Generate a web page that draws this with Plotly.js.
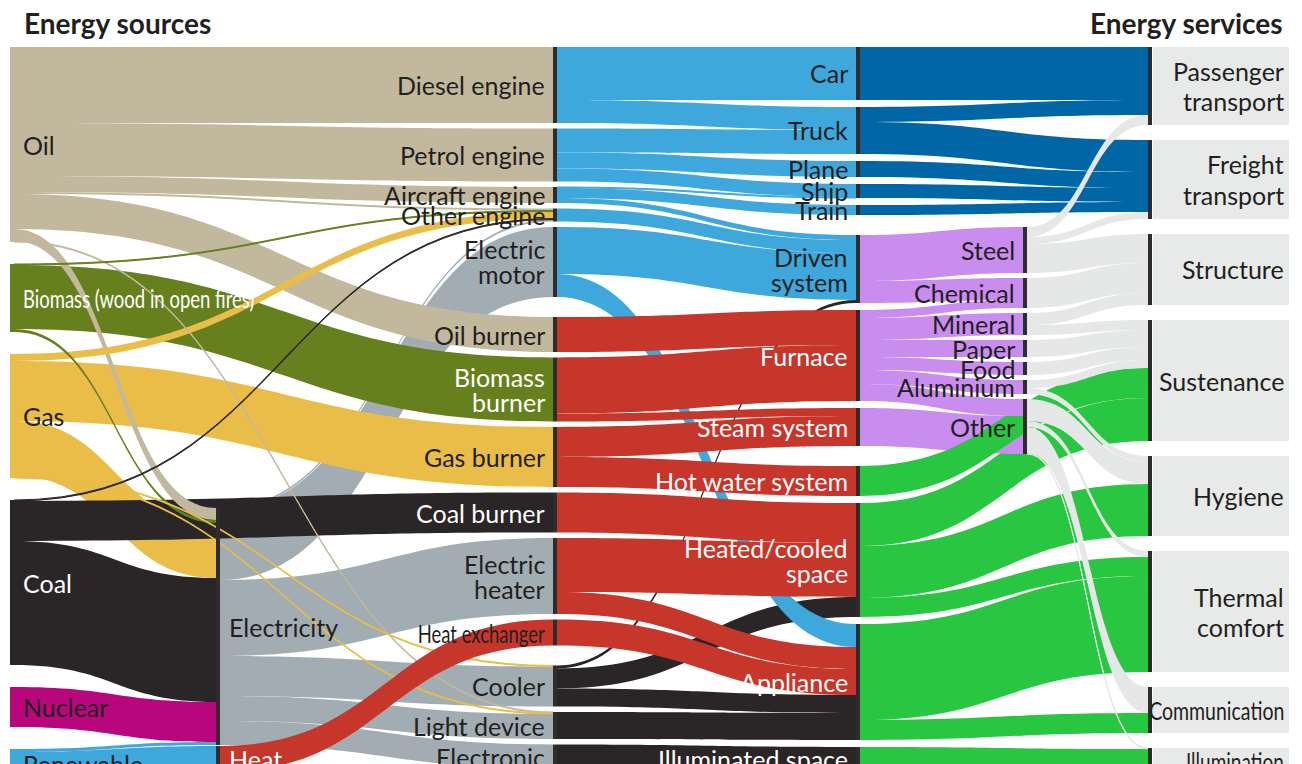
<!DOCTYPE html>
<html>
<head>
<meta charset="utf-8">
<script src="https://cdn.plot.ly/plotly-3.0.1.min.js"></script>
<style>
html, body { margin:0; padding:0; background:#ffffff; overflow:hidden; }
#chart { width:1302px; height:764px; }
</style>
</head>
<body>
<div id="chart"></div>
<script>
// ===================== DATA =====================
const sourceKeys   = ['Oil', 'Biomass', 'Gas', 'Coal', 'Nuclear', 'Renewable'];
const sourceLabels = ['Oil', 'Biomass (wood in open fires)', 'Gas', 'Coal', 'Nuclear', 'Renewable'];
const carrierKeys  = ['Electricity', 'Heat'];
const deviceKeys   = ['Diesel engine', 'Petrol engine', 'Aircraft engine', 'Other engine', 'Electric motor',
                      'Oil burner', 'Biomass burner', 'Gas burner', 'Coal burner', 'Electric heater', 'Heat exchanger',
                      'Cooler', 'Light device', 'Electronic'];
const deviceTypes  = ['motion', 'motion', 'motion', 'motion', 'motion',
                      'heat', 'heat', 'heat', 'heat', 'heat', 'heat',
                      'other', 'other', 'other'];
const passiveKeys  = ['Car', 'Truck', 'Plane', 'Ship', 'Train', 'Driven system', 'Furnace', 'Steam system',
                      'Hot water system', 'Heated/cooled space', 'Appliance', 'Illuminated space'];
const passiveTypes = ['transport', 'transport', 'transport', 'transport', 'transport', 'industry', 'industry', 'industry',
                      'building', 'building', 'building', 'building'];
const materialKeys = ['Steel', 'Chemical', 'Mineral', 'Paper', 'Food', 'Aluminium', 'Other'];
const serviceKeys  = ['Passenger transport', 'Freight transport', 'Structure', 'Sustenance', 'Hygiene',
                      'Thermal comfort', 'Communication', 'Illumination'];
const headerLeft  = 'Energy sources';
const headerRight = 'Energy services';

// energy source -> carrier / conversion device
const sourceFlows = [
  ['Oil', 'Diesel engine', 76], ['Oil', 'Petrol engine', 53], ['Oil', 'Aircraft engine', 16],
  ['Oil', 'Other engine', 2], ['Oil', 'Oil burner', 35], ['Oil', 'Electricity', 12], ['Oil', 'Light device', 1],
  ['Biomass', 'Other engine', 1], ['Biomass', 'Biomass burner', 64], ['Biomass', 'Electricity', 3],
  ['Gas', 'Other engine', 7], ['Gas', 'Gas burner', 60], ['Gas', 'Electricity', 55],
  ['Gas', 'Cooler', 1], ['Gas', 'Light device', 1],
  ['Coal', 'Other engine', 1], ['Coal', 'Coal burner', 40], ['Coal', 'Electricity', 124],
  ['Nuclear', 'Electricity', 40],
  ['Renewable', 'Electricity', 3], ['Renewable', 'Heat', 26]
];
// carrier -> conversion device
const carrierFlows = [
  ['Electricity', 'Other engine', 2], ['Electricity', 'Electric motor', 70], ['Electricity', 'Electric heater', 76],
  ['Electricity', 'Cooler', 40], ['Electricity', 'Light device', 25], ['Electricity', 'Electronic', 24],
  ['Heat', 'Heat exchanger', 26]
];
// conversion device -> passive system
const deviceFlows = [
  ['Diesel engine', 'Car', 53], ['Diesel engine', 'Truck', 23],
  ['Petrol engine', 'Truck', 24], ['Petrol engine', 'Plane', 16], ['Petrol engine', 'Ship', 13],
  ['Aircraft engine', 'Ship', 1], ['Aircraft engine', 'Train', 10], ['Aircraft engine', 'Driven system', 5],
  ['Other engine', 'Driven system', 13],
  ['Electric motor', 'Driven system', 47], ['Electric motor', 'Appliance', 23],
  ['Oil burner', 'Furnace', 35],
  ['Biomass burner', 'Furnace', 56], ['Biomass burner', 'Steam system', 8],
  ['Gas burner', 'Steam system', 30], ['Gas burner', 'Hot water system', 30],
  ['Coal burner', 'Heated/cooled space', 40],
  ['Electric heater', 'Heated/cooled space', 54], ['Electric heater', 'Appliance', 22],
  ['Heat exchanger', 'Appliance', 26],
  ['Cooler', 'Driven system', 3], ['Cooler', 'Heated/cooled space', 20], ['Cooler', 'Appliance', 18],
  ['Light device', 'Appliance', 27],
  ['Electronic', 'Illuminated space', 24]
];
// passive system -> material / final service
const passiveFlows = [
  ['Car', 'Passenger transport', 53],
  ['Truck', 'Passenger transport', 15], ['Truck', 'Freight transport', 32],
  ['Plane', 'Freight transport', 16], ['Ship', 'Freight transport', 14], ['Train', 'Freight transport', 10],
  ['Driven system', 'Steel', 46], ['Driven system', 'Chemical', 22],
  ['Furnace', 'Chemical', 8], ['Furnace', 'Mineral', 22], ['Furnace', 'Paper', 17], ['Furnace', 'Food', 13],
  ['Furnace', 'Aluminium', 14], ['Furnace', 'Other', 17],
  ['Steam system', 'Other', 38],
  ['Hot water system', 'Sustenance', 30],
  ['Heated/cooled space', 'Sustenance', 43], ['Heated/cooled space', 'Hygiene', 52],
  ['Heated/cooled space', 'Thermal comfort', 19],
  ['Appliance', 'Thermal comfort', 96], ['Appliance', 'Communication', 20],
  ['Illuminated space', 'Illumination', 24]
];
// material -> final service
const materialFlows = [
  ['Steel', 'Passenger transport', 10], ['Steel', 'Freight transport', 7], ['Steel', 'Structure', 29],
  ['Chemical', 'Structure', 30],
  ['Mineral', 'Structure', 12], ['Mineral', 'Sustenance', 10],
  ['Paper', 'Sustenance', 17],
  ['Food', 'Sustenance', 13],
  ['Aluminium', 'Sustenance', 8], ['Aluminium', 'Hygiene', 6],
  ['Other', 'Hygiene', 22], ['Other', 'Thermal comfort', 6], ['Other', 'Communication', 26],
  ['Other', 'Illumination', 1]
];

// ===================== STYLE / LAYOUT =====================
const W = 1302, H = 764, TOP = 47, THICK = 4;
const COL_X = {source: 12, carrier: 218, device: 555, passive: 858, material: 1025, service: 1150};
const LABEL_X = {source: 22, carrier: 228, device: 546, passive: 849, material: 1016, service: 1285};
const BOX_X0 = 1153, BOX_X1 = 1289;
const SOURCE_COLORS = {Oil: '#c2b89d', Biomass: '#66801d', Gas: '#e9bd48', Coal: '#2a2627', Nuclear: '#b8077c', Renewable: '#3ea8dc'};
const CARRIER_COLORS = {Electricity: '#a1adb2', Heat: '#c6362a'};
const DEVICE_TYPE_COLORS = {motion: '#3ea8dc', heat: '#c6362a', other: '#2a2627'};
const DEVICE_TYPE_ORDER = {other: 0, motion: 1, heat: 2};
const PASSIVE_TYPE_COLORS = {transport: '#0066a6', industry: '#c98cef', building: '#29c741'};
const MATERIAL_COLOR = '#e6e7e7';
const BOX_COLOR = '#e8e9e9';
const LINE_COLOR = '#2f2c2d';
const TEXT_DARK = '#231f20';
const FONT = 'Lato, "Open Sans", "Noto Sans", sans-serif';
const LABEL_SIZE = 25;
const WHITE_LABELS = new Set(['Biomass', 'Coal', 'Heat', 'Biomass burner', 'Coal burner', 'Furnace',
  'Steam system', 'Hot water system', 'Heated/cooled space', 'Appliance', 'Illuminated space']);
const CONDENSED = {'Biomass': 0.74, 'Heat exchanger': 0.74, 'Communication': 0.78, 'Illumination': 0.76};
const LINE_BREAKS = {
  'Electric motor': ['Electric', 'motor'], 'Biomass burner': ['Biomass', 'burner'],
  'Electric heater': ['Electric', 'heater'], 'Driven system': ['Driven', 'system'],
  'Heated/cooled space': ['Heated/cooled', 'space'], 'Passenger transport': ['Passenger', 'transport'],
  'Freight transport': ['Freight', 'transport'], 'Thermal comfort': ['Thermal', 'comfort']
};

// ===================== BUILD =====================
const allFlows = [].concat(sourceFlows, carrierFlows, deviceFlows, passiveFlows, materialFlows);
const inSum = {}, outSum = {};
allFlows.forEach(([s, t, v]) => { outSum[s] = (outSum[s] || 0) + v; inSum[t] = (inSum[t] || 0) + v; });
const nodeValue = k => Math.max(inSum[k] || 0, outSum[k] || 0);

const columns = [
  {name: 'source', keys: sourceKeys}, {name: 'carrier', keys: carrierKeys}, {name: 'device', keys: deviceKeys},
  {name: 'passive', keys: passiveKeys}, {name: 'material', keys: materialKeys}, {name: 'service', keys: serviceKeys}
];
const allKeys = [].concat(...columns.map(c => c.keys));
const idx = {}; allKeys.forEach((k, i) => { idx[k] = i; });
const colOf = {}; columns.forEach(c => c.keys.forEach(k => { colOf[k] = c.name; }));

// replicate d3-sankey column assignment (justify) to pick the padding giving 1 unit = 1 px
function padForUnitScale() {
  const out = {}; allKeys.forEach(k => { out[k] = []; });
  allFlows.forEach(([s, t]) => out[s].push(t));
  const depth = {}; let cur = allKeys.slice(), x = 0;
  while (cur.length) {
    const next = [];
    cur.forEach(k => { depth[k] = x; out[k].forEach(t => { if (!next.includes(t)) next.push(t); }); });
    cur = next; x++;
  }
  const groups = {};
  allKeys.forEach(k => { const c = out[k].length ? depth[k] : x - 1; (groups[c] = groups[c] || []).push(k); });
  let pad = Infinity;
  Object.values(groups).forEach(g => {
    if (g.length > 1) {
      const s = g.reduce((a, k) => a + nodeValue(k), 0);
      pad = Math.min(pad, (H - s) / (g.length - 1));
    }
  });
  return pad;
}
const PAD = padForUnitScale();

function layoutPositions(ky) {
  const pos = {};
  function stack(keys, types, gapIn, gapOut, start) {
    let y = start;
    keys.forEach((k, i) => {
      if (i > 0) y += (types && types[i] !== types[i - 1]) ? gapOut : gapIn;
      const h = nodeValue(k) * ky;
      pos[k] = {y0: y, y1: y + h};
      y += h;
    });
    return y;
  }
  const srcBottom = stack(sourceKeys, null, 22, 22, TOP);
  let yb = srcBottom - 6;
  for (let i = carrierKeys.length - 1; i >= 0; i--) {
    const h = nodeValue(carrierKeys[i]) * ky;
    pos[carrierKeys[i]] = {y0: yb - h, y1: yb};
    yb -= h + 1;
  }
  stack(deviceKeys, deviceTypes, 5.5, 20, TOP);
  stack(passiveKeys, passiveTypes, 7, 20, TOP);
  const ind = passiveKeys.filter((k, i) => passiveTypes[i] === 'industry');
  const top = Math.min(...ind.map(k => pos[k].y0)), bot = Math.max(...ind.map(k => pos[k].y1));
  const matH = materialKeys.reduce((a, k) => a + nodeValue(k) * ky, 0) + (materialKeys.length - 1) * 5;
  stack(materialKeys, null, 5, 5, (top + bot) / 2 - matH / 2);
  stack(serviceKeys, null, 15, 15, TOP);
  return pos;
}

// drawing priority: electricity flows at the back, heat/red device flows above black & blue ones
function drawRank(stage, f) {
  if (stage === 1) return f[0] === 'Electricity' ? 0 : 2;
  if (stage === 0) return 1;
  if (stage === 2) return 3 + DEVICE_TYPE_ORDER[deviceTypes[deviceKeys.indexOf(f[0])]];
  return 3 + stage * 2;
}
function linkColor(stage, f) {
  if (stage === 0) return SOURCE_COLORS[f[0]];
  if (stage === 1) return CARRIER_COLORS[f[0]];
  if (stage === 2) return DEVICE_TYPE_COLORS[deviceTypes[deviceKeys.indexOf(f[0])]];
  if (stage === 3) return PASSIVE_TYPE_COLORS[passiveTypes[passiveKeys.indexOf(f[0])]];
  return MATERIAL_COLOR;
}

let annMeta = [];
function build(ky) {
  const pos = layoutPositions(ky);
  const stages = [sourceFlows, carrierFlows, deviceFlows, passiveFlows, materialFlows];
  const items = [];
  stages.forEach((flows, st) => flows.forEach(f => items.push({f, st, rank: drawRank(st, f)})));
  items.sort((a, b) => (a.rank - b.rank) || (b.f[2] - a.f[2]));
  const link = {source: [], target: [], value: [], color: [], hoverinfo: 'none'};
  items.forEach(({f, st}) => {
    link.source.push(idx[f[0]]); link.target.push(idx[f[1]]);
    link.value.push(f[2]); link.color.push(linkColor(st, f));
  });

  const nodeColors = allKeys.map(k => colOf[k] === 'source' ? SOURCE_COLORS[k] : LINE_COLOR);
  const main = {
    type: 'sankey', arrangement: 'fixed', orientation: 'h',
    domain: {x: [0, 1], y: [0, 1]}, hoverinfo: 'none',
    node: {
      label: allKeys.map(() => ''), customdata: allKeys,
      pad: PAD, thickness: THICK, line: {width: 0}, color: nodeColors,
      x: allKeys.map(k => COL_X[colOf[k]] / W),
      y: allKeys.map(k => ((pos[k].y0 + pos[k].y1) / 2) / H),
      hoverinfo: 'none'
    },
    link: link
  };

  // light-grey boxes behind the final-service labels
  const svcTotal = serviceKeys.reduce((a, k) => a + nodeValue(k), 0);
  const boxNodes = serviceKeys.concat(serviceKeys.map(k => k + ' box'));
  const boxCenter = (BOX_X0 + BOX_X1) / 2;
  const boxes = {
    type: 'sankey', arrangement: 'fixed', orientation: 'h',
    domain: {x: [0, 1], y: [0, 1]}, hoverinfo: 'none',
    node: {
      label: boxNodes.map(() => ''), pad: (H - ky * svcTotal) / (serviceKeys.length - 1),
      thickness: BOX_X1 - BOX_X0, line: {width: 0},
      color: serviceKeys.map(() => 'rgba(0,0,0,0)').concat(serviceKeys.map(() => BOX_COLOR)),
      x: boxNodes.map(() => boxCenter / W),
      y: serviceKeys.concat(serviceKeys).map(k => ((pos[k].y0 + pos[k].y1) / 2) / H),
      hoverinfo: 'none'
    },
    link: {
      source: serviceKeys.map((k, i) => i), target: serviceKeys.map((k, i) => i + serviceKeys.length),
      value: serviceKeys.map(k => nodeValue(k)), color: serviceKeys.map(() => 'rgba(0,0,0,0)'), hoverinfo: 'none'
    }
  };

  const ann = []; annMeta = [];
  allKeys.forEach(k => {
    const col = colOf[k];
    const text = col === 'source' ? sourceLabels[sourceKeys.indexOf(k)] : k;
    const lines = LINE_BREAKS[k] || [text];
    const gap = col === 'service' ? 30 : 25;
    const cy = (pos[k].y0 + pos[k].y1) / 2;
    const anchor = (col === 'source' || col === 'carrier') ? 'left' : 'right';
    lines.forEach((ln, li) => {
      const yPx = cy + (li - (lines.length - 1) / 2) * gap;
      ann.push({
        xref: 'paper', yref: 'paper', x: LABEL_X[col] / W, y: 1 - yPx / H,
        xanchor: anchor, yanchor: 'middle', text: ln, showarrow: false, borderpad: 0,
        font: {family: FONT, size: LABEL_SIZE, color: WHITE_LABELS.has(k) ? '#ffffff' : TEXT_DARK}
      });
      annMeta.push({anchor, scale: CONDENSED[k] || null});
    });
  });
  [[headerLeft, 22, 'left'], [headerRight, 1285, 'right']].forEach(([t, x, a]) => {
    ann.push({xref: 'paper', yref: 'paper', x: x / W, y: 1 - 23 / H, xanchor: a, yanchor: 'middle',
      text: t, showarrow: false, font: {family: FONT, size: 28, weight: 700, color: TEXT_DARK}});
    annMeta.push({anchor: a, scale: null});
  });

  const layout = {
    width: W, height: H, margin: {l: 0, r: 0, t: 0, b: 0},
    paper_bgcolor: '#ffffff', plot_bgcolor: '#ffffff',
    font: {family: FONT, color: TEXT_DARK},
    annotations: ann, showlegend: false
  };
  return [[main, boxes], layout];
}

// narrow (condensed) labels: squeeze the real text horizontally
function condense(gd) {
  gd.querySelectorAll('.annotation').forEach(a => {
    const i = +a.getAttribute('data-index');
    const m = annMeta[i];
    if (!m || !m.scale) return;
    const t = a.querySelector('text');
    if (!t) return;
    t.style.transformBox = 'fill-box';
    t.style.transformOrigin = (m.anchor === 'left' ? 'left' : 'right') + ' center';
    t.style.transform = 'scaleX(' + m.scale + ')';
  });
}

const gd = document.getElementById('chart');
const cfg = {displayModeBar: false, staticPlot: true};
const [d0, l0] = build(1);
Plotly.newPlot(gd, d0, l0, cfg).then(() => {
  const g = gd.querySelector('.sankey');
  const ratios = [];
  if (g) g.querySelectorAll('.sankey-node').forEach(el => {
    const d = el.__data__, n = d && d.node;
    if (n && n.value > 20 && isFinite(n.y1 - n.y0)) ratios.push((n.y1 - n.y0) / n.value);
  });
  if (ratios.length) {
    ratios.sort((a, b) => a - b);
    const ky = ratios[Math.floor(ratios.length / 2)];
    if (Math.abs(ky - 1) > 0.004) {
      const [d1, l1] = build(ky);
      return Plotly.react(gd, d1, l1, cfg);
    }
  }
}).then(() => condense(gd));
</script>
</body>
</html>
